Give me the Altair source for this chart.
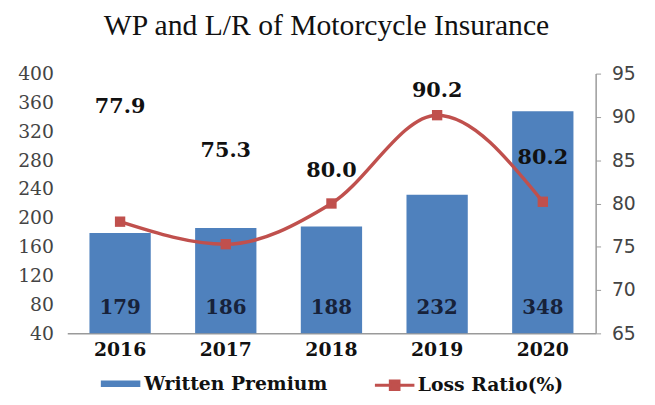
import altair as alt
import pandas as pd

# ---- data ----
years = ["2016", "2017", "2018", "2019", "2020"]
written_premium = [179, 186, 188, 232, 348]
loss_ratio = [77.9, 75.3, 80.0, 90.2, 80.2]
loss_ratio_text = ["77.9", "75.3", "80.0", "90.2", "80.2"]
left_ticks = [40, 80, 120, 160, 200, 240, 280, 320, 360, 400]
right_ticks = [65, 70, 75, 80, 85, 90, 95]

# ---- styling ----
BLUE = "#4F81BD"
RED = "#C0504D"
SERIF = "DejaVu Serif"
label_lift = [-116, -94, -33, -24, -44]  # pixel offsets of the loss-ratio labels

df = pd.DataFrame({
    "year": years,
    "wp": written_premium,
    "lr": loss_ratio,
    "lr_text": loss_ratio_text,
})

x = alt.X("year:N", title=None, scale=alt.Scale(paddingInner=0.42, paddingOuter=0.21),
          axis=alt.Axis(labelAngle=0, labelFont=SERIF, labelFontWeight="bold",
                        labelFontSize=19, labelColor="#111111", ticks=False,
                        domainColor="#9a9a9a", domainWidth=1.5, labelPadding=7))

yl_scale = alt.Scale(domain=[40, 400], nice=False, zero=False)
yr_scale = alt.Scale(domain=[65, 95], nice=False, zero=False)

left_axis = alt.Axis(values=left_ticks, grid=False, domain=False, ticks=False,
                     labelFont=SERIF, labelFontSize=19, labelColor="#444444",
                     labelPadding=14, labelOverlap=False, labelBound=False)

bars = alt.Chart(df).mark_bar(color=BLUE).encode(
    x=x,
    y=alt.Y("wp:Q", scale=yl_scale, title=None, axis=left_axis),
    y2=alt.datum(40),
    fill=alt.Fill("s:N", scale=alt.Scale(domain=["Written Premium"], range=[BLUE]),
                  legend=alt.Legend(title=None, orient="none", legendX=34, legendY=294,
                                    symbolType="M-1,-0.16 H1 V0.16 H-1 Z", symbolSize=1600,
                                    symbolStrokeWidth=0, labelFont=SERIF, labelFontWeight="bold",
                                    labelFontSize=19, labelColor="#111111", labelOffset=4,
                                    labelLimit=400)),
).transform_calculate(s="'Written Premium'")

bar_text = alt.Chart(df).mark_text(font=SERIF, fontWeight="bold", fontSize=20,
                                   color="#17223a", dy=-26, baseline="middle").encode(
    x=x,
    y=alt.datum(40, scale=yl_scale, axis=left_axis, title=None),
    text=alt.Text("wp:Q"),
)

left = alt.layer(bars, bar_text)

line = alt.Chart(df).mark_line(strokeWidth=3.5, interpolate="monotone").encode(
    x=x,
    y=alt.Y("lr:Q", scale=yr_scale, title=None,
            axis=alt.Axis(values=right_ticks, grid=False, orient="right",
                          domainColor="#9a9a9a", domainWidth=1.5, tickColor="#9a9a9a",
                          tickSize=5, labelFont="DejaVu Sans", labelFontSize=19,
                          labelColor="#444444", labelPadding=11, labelOverlap=False)),
    stroke=alt.Stroke("s:N", scale=alt.Scale(domain=["Loss Ratio(%)"], range=[RED]),
                      legend=alt.Legend(title=None, orient="none", legendX=310, legendY=294,
                                        symbolType="M-1,0 H1 M-0.22,-0.22 H0.22 V0.22 H-0.22 Z",
                                        symbolSize=1600, symbolStrokeWidth=3,
                                        symbolFillColor=RED, symbolStrokeColor=RED,
                                        labelFont=SERIF, labelFontWeight="bold",
                                        labelFontSize=19, labelColor="#111111", labelOffset=2,
                                        labelLimit=400)),
).transform_calculate(s="'Loss Ratio(%)'")

points = alt.Chart(df).mark_point(shape="square", filled=True, size=110, color=RED, opacity=1).encode(
    x=x,
    y=alt.Y("lr:Q", scale=yr_scale),
)

text_layers = []
for i, yr in enumerate(years):
    text_layers.append(
        alt.Chart(df).transform_filter(alt.datum.year == yr).mark_text(
            font=SERIF, fontWeight="bold", fontSize=21, color="#111111",
            baseline="middle", dy=label_lift[i]).encode(
            x=x,
            y=alt.Y("lr:Q", scale=yr_scale),
            text=alt.Text("lr_text:N"),
        )
    )

right = alt.layer(line, points, *text_layers)

chart = alt.layer(left, right).resolve_scale(y="independent").properties(
    width=535,
    height=263,
    autosize=alt.AutoSizeParams(type="none"),
    padding={"left": 60, "top": 64, "right": 52, "bottom": 62},
    title=alt.Title("WP and L/R of Motorcycle Insurance", font="Liberation Serif",
                    fontSize=30, fontWeight="normal", color="#111111", dx=-5, offset=24),
).configure(background="white").configure_view(stroke=None).configure_axis(labelOverlap=False)

chart.save("out.html", embed_options={"renderer": "svg", "actions": False})
